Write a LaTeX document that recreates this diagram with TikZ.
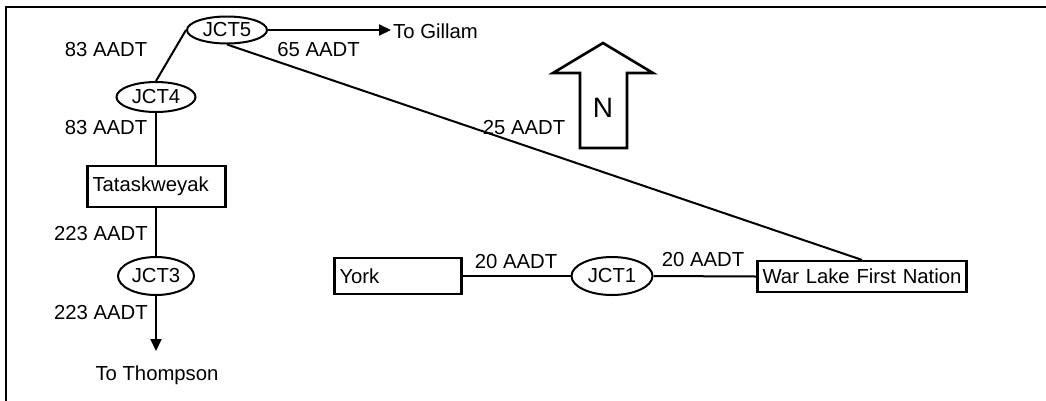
\documentclass[tikz,border=0pt]{standalone}
\usepackage{fontspec}
\setmainfont{Liberation Sans}
\usetikzlibrary{shapes.geometric,arrows.meta}
\begin{document}
\begin{tikzpicture}[x=1pt,y=-1pt,
  font=\fontsize{20.3}{24}\selectfont,
  jct/.style={ellipse,draw,line width=2pt,inner sep=0pt},
  place/.style={rectangle,draw,line width=2.2pt,inner xsep=5pt,inner ysep=0pt},
  road/.style={line width=2pt},
  toward/.style={road,-{Triangle[length=12pt,width=11pt]}},
  vol/.style={inner sep=0pt}
]
\useasboundingbox (0,0) rectangle (1046,400);
% outer frame (only the top and left edges fall inside the page)
\draw[line width=2pt] (6,420) -- (6,7) -- (1060,7);

% junctions
\node[jct,minimum width=80pt,minimum height=27pt] (jct5) at (227,30) {JCT5};
\node[jct,minimum width=79pt,minimum height=30pt] (jct4) at (156,97) {JCT4};
\node[jct,minimum width=76pt,minimum height=38pt] (jct3) at (156,276) {\raisebox{-3pt}{JCT3}};
\node[jct,minimum width=81pt,minimum height=38pt] (jct1) at (612,276) {\raisebox{-3pt}{JCT1}};

% communities
\node[place,text width=128pt,align=left,minimum height=41pt] (tat) at (156.5,186.5) {Tataskweyak};
\node[place,text width=117pt,align=left,minimum height=36pt] (york) at (398,276) {York};
\node[place,text width=199pt,align=center,minimum height=31pt] (war) at (862,276.5) {War Lake First Nation};

% destinations
\node[anchor=west,inner sep=2pt] (gillam) at (391,31) {To Gillam};
\node[inner sep=0pt] (thompson) at (157,375) {To Thompson};
\coordinate (southtip) at (156,351);

% roads
\draw[road] (jct5.west) -- (jct4.north);
\draw[toward] (jct5.east) -- (jct5.east -| gillam.west);
\draw[road] (jct5.south) -- (war.north);
\draw[road] (jct4.south) -- (tat.north -| jct4.south);
\draw[road] (tat.south -| jct3.north) -- (jct3.north);
\draw[toward] (jct3.south) -- (southtip);
\draw[road] (york.east) -- (jct1.west);
\draw[road] (jct1.east) -- (war.west);

% traffic volumes
\node[vol] (v1) at (106,50) {83 AADT};
\node[vol] (v2) at (318.5,50) {65 AADT};
\node[vol] (v3) at (106,128) {83 AADT};
\node[vol] (v4) at (524,128) {25 AADT};
\node[vol] (v5) at (101,234) {223 AADT};
\node[vol] (v6) at (101,313) {223 AADT};
\node[vol] (v7) at (516,262) {20 AADT};
\node[vol] (v8) at (703,260) {20 AADT};

% north arrow
\draw[line width=2.6pt,line join=miter,fill=white]
  (580,148) -- (580,73) -- (553,73) -- (603,43) -- (653,73) -- (627,73) -- (627,148) -- cycle;
\node[font=\fontsize{28}{30}\selectfont,inner sep=0pt] (north) at (603,108) {N};
\end{tikzpicture}
\end{document}
